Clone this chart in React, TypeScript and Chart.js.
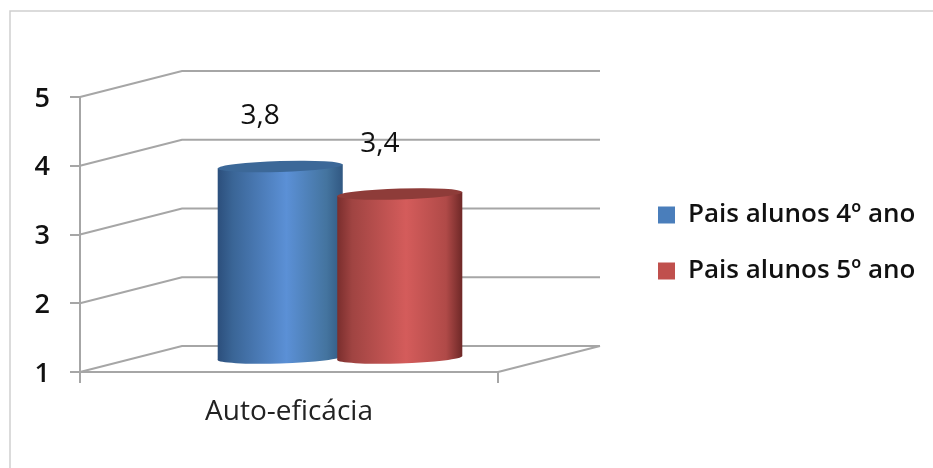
import React, { useEffect, useRef } from "react";
import { Chart, registerables } from "chart.js";

Chart.register(...registerables);

const categories = ["Auto-eficácia"];
const seriesNames = ["Pais alunos 4º ano", "Pais alunos 5º ano"];
const values4 = [3.8];
const values5 = [3.4];
const yTicks = [1, 2, 3, 4, 5];

const FONT = "'Open Sans'";
const GRID = "#a6a6a6";
const DEPTH_X = 102;
const DEPTH_Y = -26;
const RY = 5.5;
const SLOPE = -0.03;

const palette = [
  { stops: ["#2c4f7c", "#3a6596", "#5b90d6", "#44749f", "#315882"], cap: "#3c6898", base: "#4a7ebb" },
  { stops: ["#7a2e2d", "#a04442", "#d45c5b", "#b04a48", "#6e2827"], cap: "#8e3c39", base: "#c0504d" },
];
const stopAt = [0, 0.12, 0.55, 0.87, 1];

const walls = {
  id: "walls",
  beforeDraw(chart: any) {
    const { ctx, width, height } = chart;
    ctx.save();
    ctx.fillStyle = "#fff";
    ctx.fillRect(0, 0, width, height);
    ctx.strokeStyle = "#cfcfcf";
    ctx.lineWidth = 1.5;
    ctx.beginPath();
    ctx.moveTo(10, height);
    ctx.lineTo(10, 11);
    ctx.lineTo(width, 11);
    ctx.stroke();
    ctx.restore();
  },
  beforeDatasetsDraw(chart: any) {
    const { ctx, chartArea, scales } = chart;
    ctx.save();
    ctx.strokeStyle = GRID;
    ctx.lineWidth = 2;
    yTicks.forEach((v) => {
      const y = scales.y.getPixelForValue(v);
      ctx.beginPath();
      ctx.moveTo(chartArea.left, y);
      ctx.lineTo(chartArea.left + DEPTH_X, y + DEPTH_Y);
      ctx.lineTo(chartArea.right + DEPTH_X, y + DEPTH_Y);
      ctx.stroke();
    });
    ctx.beginPath();
    ctx.moveTo(chartArea.right, chartArea.bottom);
    ctx.lineTo(chartArea.right + DEPTH_X, chartArea.bottom + DEPTH_Y);
    ctx.stroke();
    ctx.restore();
  },
  beforeDatasetDraw() {
    return false;
  },
  afterDatasetsDraw(chart: any) {
    const { ctx } = chart;
    chart.data.datasets.forEach((ds: any, i: number) => {
      const meta = chart.getDatasetMeta(i);
      const c = palette[i];
      meta.data.forEach((el: any, j: number) => {
        const { x, y, base, width } = el.getProps(["x", "y", "base", "width"], true);
        const l = x - width / 2;
        const grad = ctx.createLinearGradient(l, 0, l + width, 0);
        c.stops.forEach((col: string, k: number) => grad.addColorStop(stopAt[k], col));
        ctx.save();
        ctx.translate(DEPTH_X / 2 + x, DEPTH_Y / 2);
        ctx.transform(1, SLOPE, 0, 1, 0, 0);
        ctx.translate(-x, 0);
        ctx.fillStyle = grad;
        ctx.beginPath();
        ctx.ellipse(x, base, width / 2, RY, 0, 0, Math.PI * 2);
        ctx.fill();
        el.options = {
          backgroundColor: grad,
          borderColor: "transparent",
          borderWidth: 0,
          borderSkipped: false,
          borderRadius: 0,
          inflateAmount: 0,
          enableBorderRadius: false,
        };
        el.draw(ctx);
        ctx.fillStyle = c.cap;
        ctx.beginPath();
        ctx.ellipse(x, y, width / 2, RY, 0, 0, Math.PI * 2);
        ctx.fill();
        ctx.restore();

        ctx.save();
        ctx.fillStyle = "#111";
        ctx.font = `28px ${FONT}`;
        ctx.textAlign = "center";
        ctx.textBaseline = "middle";
        ctx.fillText(String(ds.data[j]).replace(".", ","), x + DEPTH_X / 2 - 20, y + DEPTH_Y / 2 - 50);
        ctx.restore();
      });
    });
  },
  afterLayout(chart: any) {
    const lg = chart.legend;
    const p = lg.options.labels.padding;
    lg.left = 658 - p;
    lg.right = chart.width;
    lg.top = 202 - p;
    lg.bottom = chart.height;
  },
};

export default function App() {
  const ref = useRef<HTMLCanvasElement | null>(null);
  useEffect(() => {
    document.body.style.margin = "0";
    const chart = new Chart(ref.current as HTMLCanvasElement, {
      type: "bar",
      data: {
        labels: categories,
        datasets: [
          { label: seriesNames[0], data: values4, base: 1, backgroundColor: palette[0].base, categoryPercentage: 0.572, barPercentage: 1.046 },
          { label: seriesNames[1], data: values5, base: 1, backgroundColor: palette[1].base, categoryPercentage: 0.572, barPercentage: 1.046 },
        ],
      } as any,
      options: {
        animation: false,
        responsive: false,
        devicePixelRatio: 1,
        layout: { padding: { left: 0, top: 97, right: 335, bottom: 0 } },
        plugins: {
          tooltip: { enabled: false },
          legend: {
            position: "right",
            align: "start",
            maxWidth: 100,
            labels: {
              boxWidth: 17,
              boxHeight: 17,
              padding: 30,
              color: "#111",
              font: { family: FONT, size: 26, weight: "600" },
            },
          },
        },
        scales: {
          x: {
            afterFit(s: any) { s.height = 96; },
            grid: { drawOnChartArea: false, color: GRID, tickLength: 11, lineWidth: 2 },
            border: { color: GRID, width: 2 },
            ticks: { color: "#222", padding: 12, font: { family: FONT, size: 28 } },
          },
          y: {
            min: 1,
            max: 5,
            afterFit(s: any) { s.width = 80; },
            grid: { drawOnChartArea: false, color: GRID, tickLength: 10, lineWidth: 2 },
            border: { color: GRID, width: 2 },
            ticks: { stepSize: 1, color: "#111", padding: 20, labelOffset: 2, font: { family: FONT, size: 27, weight: "600" } },
          },
        },
      },
      plugins: [walls],
    } as any);
    return () => chart.destroy();
  }, []);
  return (
    <canvas
      ref={ref}
      width={933}
      height={468}
      style={{ position: "absolute", left: 0, top: 0, width: 933, height: 468, filter: "blur(0.4px)" }}
    />
  );
}
